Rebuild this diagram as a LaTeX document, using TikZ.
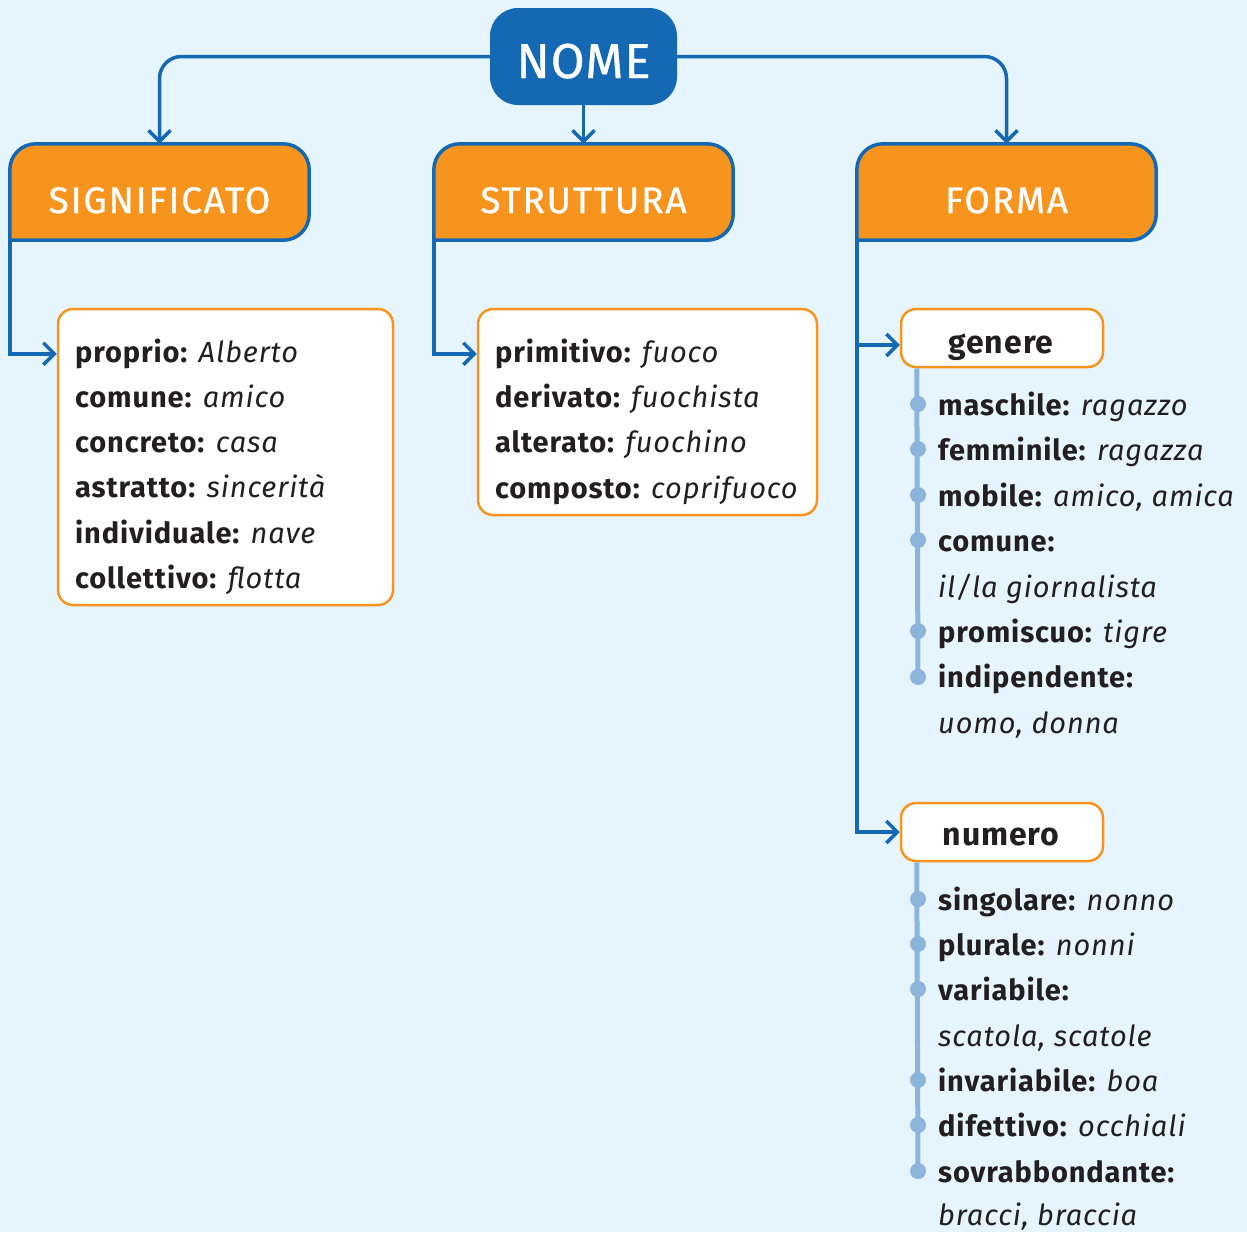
\documentclass[tikz,border=0pt]{standalone}
\usepackage{fontspec}
\setmainfont{Fira Sans}
\newfontfamily\bodyfont{Fira Sans}[LetterSpace=3]
\newfontfamily\headfont{Fira Sans}[LetterSpace=5,FakeBold=0.8]
\newfontfamily\nomefont{Fira Sans}[LetterSpace=2,FakeBold=0.8]
\usetikzlibrary{arrows.meta}
\definecolor{bgc}{HTML}{E6F5FD}
\definecolor{dblue}{HTML}{1569B4}
\definecolor{orng}{HTML}{F7941D}
\definecolor{lblue}{HTML}{8DB4DA}
\definecolor{txt}{HTML}{231F20}
\newcommand\kterm[1]{{\bfseries #1}}
\newcommand\kex[1]{{\itshape #1}}
\begin{document}
\begin{tikzpicture}[x=1pt,y=-1pt,
  conn/.style={draw=dblue, line width=3.5pt, -{Straight Barb[length=11pt,width=22pt]}},
  hdr/.style={minimum width=299pt, minimum height=96pt, inner sep=0pt},
  hdrshape/.style={draw=dblue, line width=3.5pt, fill=orng},
  hdrtext/.style={anchor=base, inner sep=0pt, text=white, font=\headfont\fontsize{37}{37}\selectfont},
  nomebox/.style={fill=dblue, rounded corners=28pt, minimum width=187pt, minimum height=97pt, inner sep=0pt},
  nometext/.style={anchor=base, inner sep=0pt, text=white, font=\nomefont\fontsize{49}{49}\selectfont},
  listbox/.style={draw=orng, line width=2.5pt, fill=white, rounded corners=15pt, inner sep=0pt},
  subbox/.style={draw=orng, line width=2.5pt, fill=white, rounded corners=15pt, inner sep=0pt, minimum width=202pt, minimum height=58pt},
  subtext/.style={anchor=base, inner sep=0pt, text=txt, font=\bodyfont\bfseries\fontsize{32}{32}\selectfont},
  item/.style={anchor=base west, inner sep=0pt, text=txt, font=\bodyfont\fontsize{29}{29}\selectfont},
  vline/.style={draw=lblue, line width=5pt},
  dot/.style={circle, fill=lblue, minimum size=16pt, inner sep=0pt}
]
\useasboundingbox (0,0) rectangle (1247,1232);
\fill[bgc] (0,0) rectangle (1247,1232);

% main box
\node[nomebox] (nome) at (583.5,56.5) {};
\node[nometext] (nomet) at (583.5,78) {NOME};

% header boxes
\node[hdr] (sig) at (159.5,192) {};
\node[hdr] (str) at (583.5,192) {};
\node[hdr] (frm) at (1006.5,192) {};
\foreach \b in {sig,str,frm}{
  \draw[hdrshape] (\b.west) [rounded corners=26pt] -- (\b.north west) -- (\b.north east) -- (\b.south east) [sharp corners] -- (\b.south west) -- cycle;
}
\node[hdrtext] (sigt) at (159.5,213) {SIGNIFICATO};
\node[hdrtext] (strt) at (583.5,213) {STRUTTURA};
\node[hdrtext] (frmt) at (1006.5,213) {FORMA};

% connectors from NOME
\draw[conn, rounded corners=22pt] (nome.west) -| (sig.north);
\draw[conn] (nome.south) -- (str.north);
\draw[conn, rounded corners=22pt] (nome.east) -| (frm.north);

% list boxes
\node[listbox, minimum width=335pt, minimum height=296pt] (l1) at (225.5,457) {};
\node[listbox, minimum width=339pt, minimum height=206pt] (l2) at (647.5,412) {};
\draw[conn] (sig.south west) |- ([yshift=-46pt]l1.north west);
\draw[conn] (str.south west) |- ([yshift=-46pt]l2.north west);

\node[item] (a1) at (75,362) {\kterm{proprio:} \kex{Alberto}};
\node[item] (a2) at (75,407) {\kterm{comune:} \kex{amico}};
\node[item] (a3) at (75,452) {\kterm{concreto:} \kex{casa}};
\node[item] (a4) at (75,497) {\kterm{astratto:} \kex{sincerità}};
\node[item] (a5) at (75,543) {\kterm{individuale:} \kex{nave}};
\node[item] (a6) at (75,588) {\kterm{collettivo:} \kex{flotta}};

\node[item] (b1) at (495,362) {\kterm{primitivo:} \kex{fuoco}};
\node[item] (b2) at (495,407) {\kterm{derivato:} \kex{fuochista}};
\node[item] (b3) at (495,452) {\kterm{alterato:} \kex{fuochino}};
\node[item] (b4) at (495,498) {\kterm{composto:} \kex{coprifuoco}};

% FORMA branch
\node[subbox] (gen) at (1002,338) {};
\node[subtext] (gent) at (1001,353) {genere};
\node[subbox] (num) at (1002,832) {};
\node[subtext] (numt) at (1001,845) {numero};
\draw[conn] (frm.south west) |- (num.west);
\draw[conn] (frm.south west) |- ([yshift=-7pt]gen.west);

% genere list
\node[dot] (g1) at (918,404) {};
\node[dot] (g2) at (918,449) {};
\node[dot] (g3) at (918,495) {};
\node[dot] (g4) at (918,540) {};
\node[dot] (g5) at (918,631) {};
\node[dot] (g6) at (918,677) {};
\draw[vline] ([xshift=17pt]gen.south west) -- (g6.center);
\node[item] (c1) at (938,415) {\kterm{maschile:} \kex{ragazzo}};
\node[item] (c2) at (938,460) {\kterm{femminile:} \kex{ragazza}};
\node[item] (c3) at (938,506) {\kterm{mobile:} \kex{amico, amica}};
\node[item] (c4) at (938,551) {\kterm{comune:}};
\node[item] (c5) at (938,597) {\kex{il/la giornalista}};
\node[item] (c6) at (938,642) {\kterm{promiscuo:} \kex{tigre}};
\node[item] (c7) at (938,687) {\kterm{indipendente:}};
\node[item] (c8) at (938,733) {\kex{uomo, donna}};

% numero list
\node[dot] (n1) at (918,899) {};
\node[dot] (n2) at (918,944) {};
\node[dot] (n3) at (918,989) {};
\node[dot] (n4) at (918,1080) {};
\node[dot] (n5) at (918,1125) {};
\node[dot] (n6) at (918,1171) {};
\draw[vline] ([xshift=17pt]num.south west) -- (n6.center);
\node[item] (d1) at (938,910) {\kterm{singolare:} \kex{nonno}};
\node[item] (d2) at (938,955) {\kterm{plurale:} \kex{nonni}};
\node[item] (d3) at (938,1000) {\kterm{variabile:}};
\node[item] (d4) at (938,1046) {\kex{scatola, scatole}};
\node[item] (d5) at (938,1091) {\kterm{invariabile:} \kex{boa}};
\node[item] (d6) at (938,1136) {\kterm{difettivo:} \kex{occhiali}};
\node[item] (d7) at (938,1182) {\kterm{sovrabbondante:}};
\node[item] (d8) at (938,1225) {\kex{bracci, braccia}};
\end{tikzpicture}
\end{document}
